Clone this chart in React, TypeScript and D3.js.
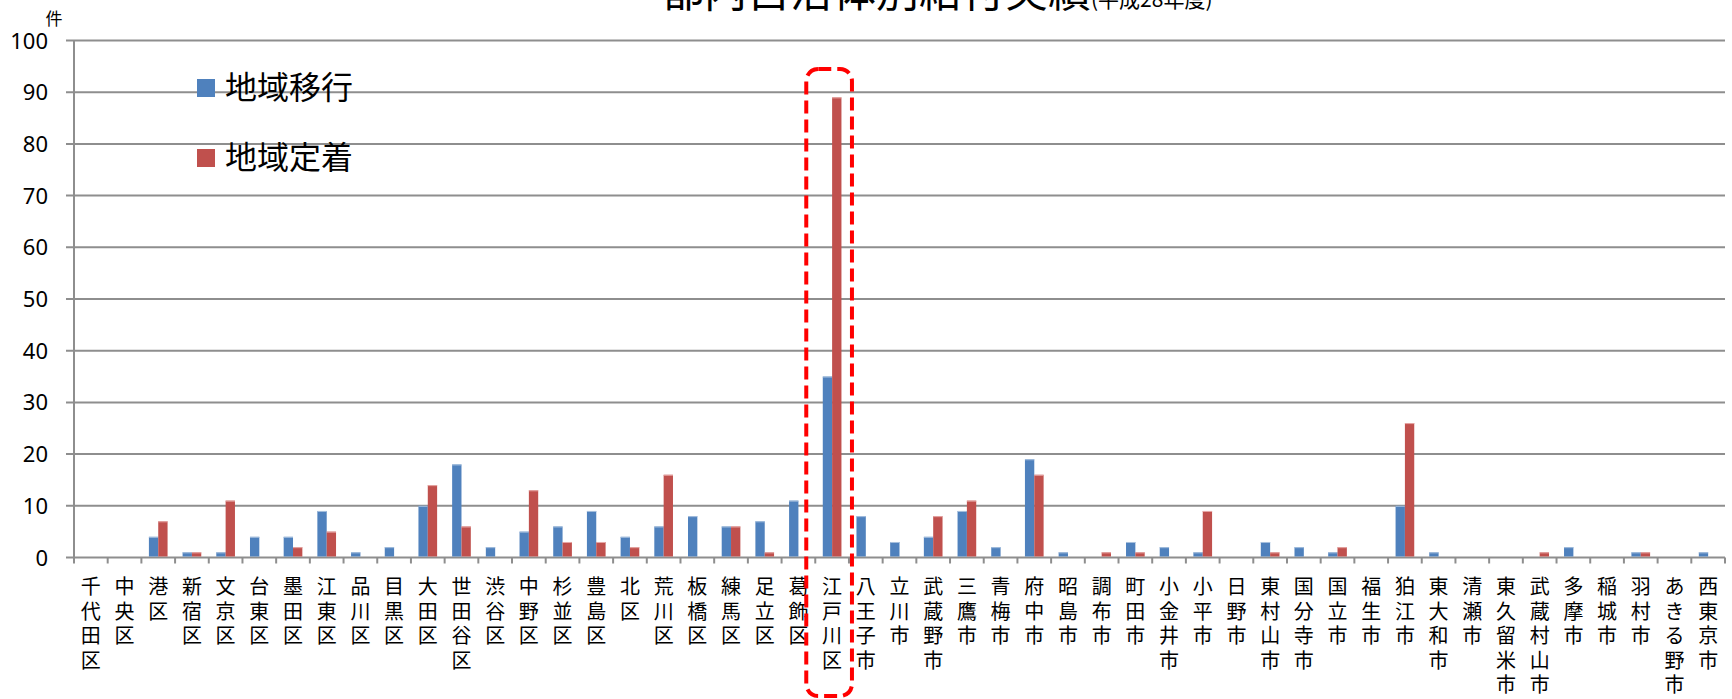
import React from "react";
import * as d3 from "d3";

const categories = [
  "千代田区", "中央区", "港区", "新宿区", "文京区", "台東区", "墨田区", "江東区", "品川区", "目黒区",
  "大田区", "世田谷区", "渋谷区", "中野区", "杉並区", "豊島区", "北区", "荒川区", "板橋区", "練馬区",
  "足立区", "葛飾区", "江戸川区", "八王子市", "立川市", "武蔵野市", "三鷹市", "青梅市", "府中市", "昭島市",
  "調布市", "町田市", "小金井市", "小平市", "日野市", "東村山市", "国分寺市", "国立市", "福生市", "狛江市",
  "東大和市", "清瀬市", "東久留米市", "武蔵村山市", "多摩市", "稲城市", "羽村市", "あきる野市", "西東京市",
];

const chiikiIkou = [
  0, 0, 4, 1, 1, 4, 4, 9, 1, 2,
  10, 18, 2, 5, 6, 9, 4, 6, 8, 6,
  7, 11, 35, 8, 3, 4, 9, 2, 19, 1,
  0, 3, 2, 1, 0, 3, 2, 1, 0, 10,
  1, 0, 0, 0, 2, 0, 1, 0, 1,
];

const chiikiTeichaku = [
  0, 0, 7, 1, 11, 0, 2, 5, 0, 0,
  14, 6, 0, 13, 3, 3, 2, 16, 0, 6,
  1, 0, 89, 0, 0, 8, 11, 0, 16, 0,
  1, 1, 0, 9, 0, 1, 0, 2, 0, 26,
  0, 0, 0, 1, 0, 0, 1, 0, 0,
];

const yTicks = [0, 10, 20, 30, 40, 50, 60, 70, 80, 90, 100];
const seriesNames = ["地域移行", "地域定着"];
const seriesColors = ["#4F81BD", "#C0504D"];
const seriesEdge = ["#A7C0DE", "#E6A9A7"];
const highlighted = "江戸川区";
const titleMain = "都内自治体別給付実績";
const titleSub = "(平成28年度)";
const unitLabel = "件";

const W = 1732;
const H = 699;
const left = 74;
const right = 1725;
const top = 40.5;
const bottom = 557.5;

export default function App() {
  const x = d3.scaleBand<string>().domain(categories).range([left, right]).paddingInner(0).paddingOuter(0);
  const y = d3.scaleLinear().domain([0, 100]).range([bottom, top]);
  const bw = x.bandwidth();
  const barW = bw * 0.277;
  const series = [chiikiIkou, chiikiTeichaku];
  const gridColor = "#8E8E8E";
  const jp = "'Noto Sans CJK JP', 'Noto Sans', sans-serif";
  const num = "'Noto Sans', 'Open Sans', sans-serif";
  const hx = x(highlighted)!;

  return (
    <svg width={W} height={H} style={{ position: "absolute", left: 0, top: 0, background: "#fff" }}>
      <rect x={0} y={0} width={W} height={H} fill="#fff" />
      {/* title */}
      <text x={661} y={7} fontFamily={jp} fontSize={43} fill="#000">
        {titleMain}
        <tspan fontSize={21}>{titleSub}</tspan>
      </text>
      {/* unit */}
      <text x={54} y={25} fontFamily={jp} fontSize={17} textAnchor="middle" fill="#000">{unitLabel}</text>
      {/* gridlines */}
      {yTicks.map((t) => (
        <g key={t}>
          <line x1={left - 8} x2={right} y1={y(t)} y2={y(t)} stroke={gridColor} strokeWidth={2} />
          <text x={48} y={y(t) + 8} fontFamily={num} fontSize={22} textAnchor="end" fill="#000">{t}</text>
        </g>
      ))}
      {/* y axis */}
      <line x1={left} x2={left} y1={top} y2={bottom + 6} stroke={gridColor} strokeWidth={2} />
      {/* category ticks */}
      {categories.map((c) => (
        <line key={"t" + c} x1={x(c)! + bw} x2={x(c)! + bw} y1={bottom} y2={bottom + 6} stroke={gridColor} strokeWidth={2} />
      ))}
      {/* bars */}
      {series.map((vals, si) =>
        vals.map((v, i) => {
          if (v <= 0) return null;
          const c = categories[i];
          const bx = x(c)! + bw / 2 - barW + si * barW;
          const by = y(v);
          const bh = y(0) - y(v);
          return (
            <g key={si + "-" + i}>
              <rect x={bx} y={by} width={barW} height={bh - 1} fill={seriesColors[si]} />
              <line x1={bx} x2={bx + barW} y1={by + 0.5} y2={by + 0.5} stroke={seriesEdge[si]} strokeWidth={1} />
            </g>
          );
        })
      )}
      {/* category labels */}
      {categories.map((c) => (
        <text key={"l" + c} fontFamily={jp} fontSize={20} textAnchor="middle" fill="#000">
          {Array.from(c).map((ch, k) => (
            <tspan key={k} x={x(c)! + bw / 2} y={594 + k * 24.6}>{ch}</tspan>
          ))}
        </text>
      ))}
      {/* legend */}
      {seriesNames.map((n, i) => (
        <g key={n}>
          <rect x={197} y={79 + i * 70} width={18} height={18} fill={seriesColors[i]} />
          <text x={225} y={99 + i * 70} fontFamily={jp} fontSize={32} fill="#000">{n}</text>
        </g>
      ))}
      {/* highlight box */}
      <rect
        x={hx - 9}
        y={69}
        width={bw + 12}
        height={627}
        rx={12}
        ry={12}
        fill="none"
        stroke="#FF0000"
        strokeWidth={4}
        strokeDasharray="13 6"
      />
    </svg>
  );
}
